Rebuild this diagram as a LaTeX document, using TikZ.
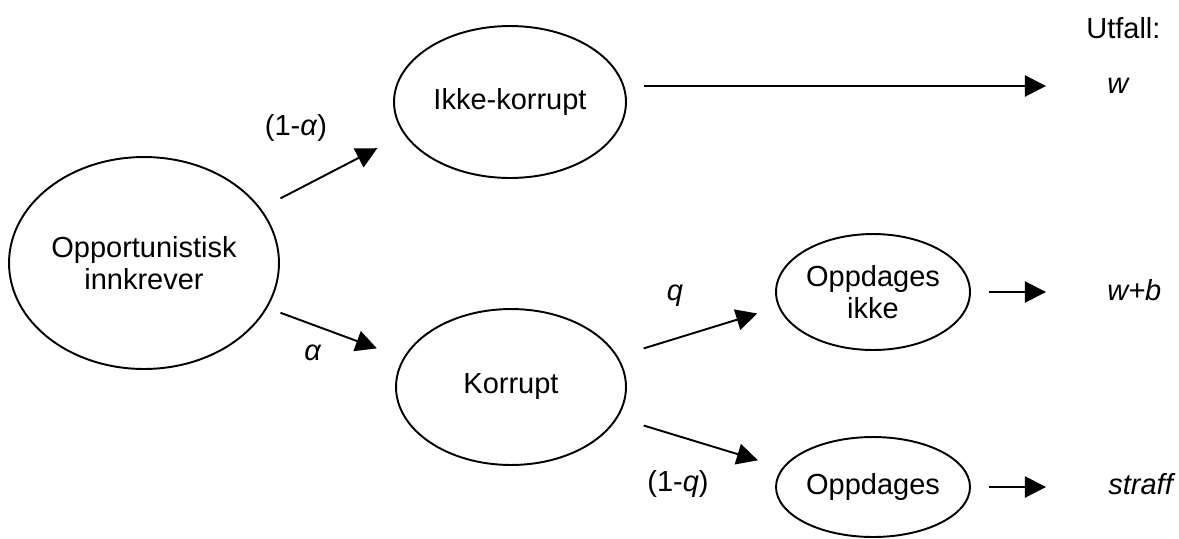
\documentclass[tikz,border=0pt]{standalone}
\usepackage{fontspec}
\setmainfont{Liberation Sans}
\usepackage{amsmath}
\usepackage{tikz}
\usetikzlibrary{shapes.geometric, arrows.meta, positioning, calc}
\tikzset{
  state/.style={ellipse, draw=black, inner sep=0pt, align=center,
    font=\fontsize{16.5}{18.5}\selectfont, line width=1.1pt},
  problabel/.style={font=\fontsize{16.5}{18.5}\selectfont, inner sep=0pt},
  outcome/.style={font=\fontsize{16.5}{18.5}\selectfont\itshape,
    inner sep=0pt, anchor=west},
  arrow/.style={-{Triangle[length=12pt,width=12pt]}, line width=1.1pt, color=black}
}

\begin{document}
\begin{tikzpicture}[x=0.02cm, y=-0.02cm]
  \useasboundingbox (0,0) rectangle (1179,538);
  % tilstander
  \node[state, minimum width=5.4cm, minimum height=4.24cm] (opp) at (144,263) {Opportunistisk\\innkrever};
  \node[state, minimum width=4.64cm, minimum height=3.04cm] (ikke) at (510,102) {Ikke-korrupt};
  \node[state, minimum width=4.6cm, minimum height=3.12cm] (korrupt) at (511,387) {Korrupt};
  \node[state, minimum width=3.88cm, minimum height=2.32cm] (oppi) at (873,292) {Oppdages\\ikke};
  \node[state, minimum width=3.88cm, minimum height=2.0cm] (oppd) at (873,487) {Oppdages};
  % utfall
  \node[problabel, anchor=west] (utfall) at (1086,28) {Utfall:};
  \node[outcome] (w) at (1107,86) {w};
  \node[outcome] (wb) at (1107,290) {w+b};
  \node[outcome] (straff) at (1108,484) {straff};
  % sannsynligheter
  \node[problabel] (pa1) at (296,128) {(1-\textit{α})};
  \node[problabel] (pa) at (313,353) {\textit{α}};
  \node[problabel] (pq) at (675,296) {\textit{q}};
  \node[problabel] (pq1) at (678,484) {(1-\textit{q})};
  % piler
  \draw[arrow, shorten <=0.44cm, shorten >=0.6cm] (opp.25) -- (ikke.197);
  \draw[arrow, shorten <=0.28cm, shorten >=0.56cm] (opp.-20) -- (korrupt.165);
  \draw[arrow, shorten <=0.54cm, shorten >=0.44cm] (korrupt.16) -- (oppi.189);
  \draw[arrow, shorten <=0.54cm, shorten >=0.51cm] (korrupt.-16) -- (oppd.168);
  \draw[arrow, shorten <=0.34cm, shorten >=1.22cm] (ikke.east |- w.west) -- (w.west);
  \draw[arrow, shorten <=0.36cm, shorten >=1.22cm] (oppi.east) -- (oppi.east -| wb.west);
  \draw[arrow, shorten <=0.36cm, shorten >=1.24cm] (oppd.east) -- (oppd.east -| straff.west);
\end{tikzpicture}
\end{document}
